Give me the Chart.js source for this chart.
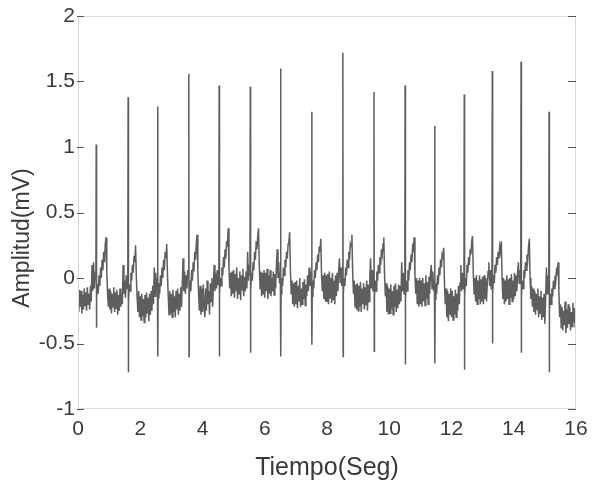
<!DOCTYPE html>
<html>
<head>
<meta charset="utf-8">
<script src="https://cdn.jsdelivr.net/npm/chart.js@4.4.1/dist/chart.umd.min.js"></script>
<style>
  html, body { margin: 0; padding: 0; background: #fff; }
  #wrap { width: 598px; height: 489px; }
</style>
</head>
<body>
<div id="wrap"><canvas id="ecg"></canvas></div>
<script>
    // ECG: linea base + onda T cada 0.025 s, un segundo por tramo
    const dt = 0.025;

    const tramo0  = [-0.12, -0.26, -0.09, -0.22, -0.10, -0.27, -0.13, -0.24, -0.08, -0.21, -0.11, -0.25, -0.07, -0.20, -0.12, -0.24, -0.06, -0.18, 0.10, -0.10, 0.12, -0.08, 0.02, 0.00, -0.15, -0.05, -0.12, 0.02, -0.06, 0.08, 0.00, 0.14, 0.06, 0.20, 0.12, 0.26, 0.31, 0.05, -0.12, -0.22];
    const tramo1  = [-0.08, -0.24, -0.10, -0.27, -0.12, -0.22, -0.07, -0.26, -0.11, -0.23, -0.09, -0.28, -0.13, -0.25, -0.08, -0.22, -0.12, -0.20, 0.10, -0.12, -0.02, -0.15, 0.02, -0.08, 0.00, -0.18, -0.05, -0.10, 0.04, -0.02, 0.10, 0.04, 0.17, 0.12, 0.25, 0.00, -0.15, -0.26, -0.10, -0.30];
    const tramo2  = [-0.14, -0.32, -0.12, -0.29, -0.16, -0.34, -0.13, -0.30, -0.11, -0.27, -0.15, -0.33, -0.12, -0.28, -0.10, -0.25, -0.06, -0.20, 0.08, -0.14, 0.04, -0.10, 0.00, -0.15, -0.04, -0.12, 0.02, -0.06, 0.08, 0.00, 0.14, 0.06, 0.20, 0.15, 0.26, 0.02, -0.14, -0.28, -0.10, -0.27];
    const tramo3  = [-0.12, -0.30, -0.09, -0.26, -0.14, -0.30, -0.10, -0.24, -0.08, -0.28, -0.12, -0.25, -0.07, -0.22, -0.05, 0.15, -0.10, 0.05, -0.12, 0.02, -0.08, 0.06, 0.02, -0.14, -0.02, -0.10, 0.06, -0.02, 0.12, 0.05, 0.20, 0.14, 0.26, 0.33, 0.05, -0.12, -0.25, -0.06, -0.28, -0.08];
    const tramo4  = [-0.26, -0.05, -0.22, -0.30, -0.08, -0.25, -0.02, -0.20, -0.10, -0.28, -0.04, -0.18, 0.00, -0.22, -0.06, 0.10, -0.10, 0.04, -0.08, 0.06, -0.05, 0.02, -0.12, 0.00, -0.06, 0.08, 0.02, 0.16, 0.08, 0.22, 0.15, 0.28, 0.24, 0.38, 0.08, -0.08, 0.04, -0.14, 0.05, -0.12];
    const tramo5  = [0.06, -0.15, 0.03, -0.10, 0.08, -0.16, 0.00, -0.12, 0.05, -0.17, 0.02, -0.09, 0.07, -0.14, 0.01, -0.10, 0.05, -0.08, 0.20, -0.02, 0.10, 0.02, -0.10, 0.04, -0.02, 0.12, 0.06, 0.20, 0.14, 0.28, 0.22, 0.32, 0.38, 0.10, -0.08, 0.05, -0.14, 0.04, -0.12, 0.06];
    const tramo6  = [-0.15, 0.04, -0.10, 0.07, -0.16, 0.02, -0.12, 0.06, -0.14, 0.00, -0.10, 0.05, -0.13, 0.03, -0.08, 0.10, 0.22, 0.00, 0.12, -0.04, 0.05, -0.12, 0.00, -0.06, 0.08, 0.02, 0.14, 0.08, 0.20, 0.15, 0.26, 0.28, 0.35, 0.05, -0.12, -0.02, -0.20, -0.04, -0.22, -0.03];
    const tramo7  = [-0.20, -0.02, -0.23, -0.06, -0.18, 0.00, -0.22, -0.08, -0.20, -0.03, -0.16, -0.01, -0.21, -0.05, -0.14, 0.02, -0.10, 0.08, -0.06, 0.05, -0.02, -0.14, -0.02, -0.08, 0.06, 0.00, 0.12, 0.06, 0.18, 0.12, 0.24, 0.20, 0.30, 0.02, -0.10, 0.02, -0.16, 0.04, -0.18, 0.02];
    const tramo8  = [-0.18, 0.03, -0.20, 0.05, -0.15, 0.00, -0.19, 0.04, -0.17, -0.02, -0.20, 0.02, -0.14, 0.04, -0.10, 0.06, 0.15, -0.04, 0.08, -0.06, 0.03, -0.12, 0.00, -0.06, 0.08, 0.02, 0.14, 0.08, 0.20, 0.14, 0.26, 0.24, 0.33, 0.04, -0.12, -0.02, -0.22, -0.05, -0.24, -0.04];
    const tramo9  = [-0.25, -0.06, -0.22, -0.03, -0.26, -0.08, -0.20, -0.04, -0.24, -0.07, -0.21, -0.02, -0.25, -0.05, -0.18, 0.00, 0.15, -0.08, 0.06, -0.10, 0.00, -0.14, -0.02, -0.10, 0.05, -0.02, 0.10, 0.04, 0.16, 0.10, 0.22, 0.18, 0.26, 0.31, 0.02, -0.14, -0.04, -0.26, -0.06, -0.28];
    const tramo10 = [-0.08, -0.27, -0.05, -0.24, -0.10, -0.28, -0.06, -0.22, -0.04, -0.26, -0.09, -0.23, -0.05, -0.20, -0.06, -0.18, 0.12, -0.10, 0.04, -0.12, 0.00, -0.16, -0.02, -0.10, 0.06, -0.02, 0.12, 0.06, 0.18, 0.12, 0.24, 0.22, 0.31, 0.02, -0.12, 0.00, -0.20, -0.02, -0.22, 0.00];
    const tramo11 = [-0.20, -0.02, -0.22, 0.00, -0.18, -0.04, -0.21, 0.02, -0.16, -0.03, -0.20, 0.01, -0.12, 0.04, 0.10, -0.08, 0.05, -0.10, -0.02, -0.16, -0.04, -0.12, 0.02, -0.05, 0.08, 0.02, 0.14, 0.08, 0.18, 0.16, 0.23, -0.05, -0.20, -0.08, -0.30, -0.10, -0.33, -0.12, -0.28, -0.08];
    const tramo12 = [-0.30, -0.10, -0.32, -0.14, -0.28, -0.09, -0.30, -0.12, -0.25, -0.06, -0.20, -0.04, 0.10, -0.10, 0.04, -0.08, 0.00, -0.14, 0.00, -0.06, 0.10, 0.04, 0.16, 0.10, 0.22, 0.18, 0.28, 0.32, 0.04, -0.12, 0.00, -0.18, 0.02, -0.20, -0.02, -0.16, 0.02, -0.20, -0.01, -0.18];
    const tramo13 = [0.01, -0.20, 0.02, -0.16, 0.00, -0.18, -0.04, 0.05, 0.12, -0.06, 0.06, -0.08, 0.02, -0.12, 0.02, -0.04, 0.10, 0.04, 0.16, 0.10, 0.20, 0.15, 0.24, 0.20, 0.28, 0.00, -0.16, 0.00, -0.20, -0.02, -0.18, 0.02, -0.16, -0.01, -0.20, 0.00, -0.15, 0.03, -0.18, -0.02];
    const tramo14 = [-0.16, 0.04, -0.14, 0.02, -0.10, 0.05, 0.12, -0.04, 0.06, 0.00, -0.14, -0.02, -0.08, 0.06, 0.00, 0.12, 0.06, 0.18, 0.14, 0.24, 0.30, 0.00, -0.16, -0.06, -0.22, -0.08, -0.26, -0.10, -0.28, -0.12, -0.24, -0.08, -0.30, -0.14, -0.27, -0.10, -0.32, -0.15, -0.30, -0.12];
    const tramo15 = [-0.35, -0.15, 0.08, -0.12, 0.02, -0.05, -0.25, -0.12, -0.20, -0.08, -0.14, -0.02, -0.08, 0.02, -0.02, 0.06, 0.04, 0.12, -0.10, -0.30, -0.20, -0.38, -0.22, -0.40, -0.25, -0.36, -0.18, -0.42, -0.24, -0.38, -0.20, -0.35, -0.22, -0.40, -0.26, -0.37, -0.19, -0.34, -0.23, -0.38, -0.22];

    // complejos QRS: instante de la onda R, su pico y el valle S que la sigue
    const tiempoR = [0.585, 1.61, 2.56, 3.56, 4.535, 5.535, 6.51, 7.51, 8.51, 9.51, 10.51, 11.46, 12.41, 13.31, 14.235, 15.135];
    const picoR = [1.02, 1.38, 1.31, 1.56, 1.47, 1.46, 1.60, 1.27, 1.72, 1.42, 1.47, 1.16, 1.40, 1.58, 1.65, 1.27];
    const valleS = [-0.38, -0.72, -0.60, -0.60, -0.60, -0.57, -0.60, -0.51, -0.60, -0.56, -0.66, -0.65, -0.70, -0.50, -0.57, -0.72];

    const ticksX = [0, 2, 4, 6, 8, 10, 12, 14, 16];
    const ticksY = [-1, -0.5, 0, 0.5, 1, 1.5, 2];

    const base = [].concat(tramo0, tramo1, tramo2, tramo3, tramo4, tramo5, tramo6, tramo7,
      tramo8, tramo9, tramo10, tramo11, tramo12, tramo13, tramo14, tramo15);

    const puntos = base.map((v, i) => ({ x: i * dt, y: v }));
    tiempoR.forEach((t, i) => {
      puntos.push({ x: t, y: picoR[i] });
      puntos.push({ x: t + 0.008, y: valleS[i] });
    });
    puntos.sort((a, b) => a.x - b.x);

    const fuente = 'Liberation Sans, Arial, sans-serif';
    const colorTexto = '#3a3a3a';

    // marco gris claro, marcas hacia dentro y titulo del eje y
    const marco = {
      id: 'marco',
      afterDatasetsDraw(chart) {
        const { ctx, chartArea: a, scales: { y } } = chart;
        ctx.save();
        ctx.strokeStyle = '#d9d9d9';
        ctx.lineWidth = 1;
        ctx.strokeRect(a.left + 0.5, a.top + 0.5, a.right - a.left - 1, a.bottom - a.top - 1);
        ctx.strokeStyle = '#555';
        ctx.beginPath();
        ticksY.forEach(v => {
          const py = Math.round(y.getPixelForValue(v)) + 0.5;
          ctx.moveTo(a.left - 1, py);
          ctx.lineTo(a.left + 6, py);
          ctx.moveTo(a.right - 8, py);
          ctx.lineTo(a.right, py);
        });
        ctx.stroke();

        ctx.translate(23, 238);
        ctx.rotate(-Math.PI / 2);
        ctx.fillStyle = colorTexto;
        ctx.font = '23px ' + fuente;
        ctx.textAlign = 'center';
        ctx.textBaseline = 'middle';
        ctx.fillText('Amplitud(mV)', 0, 0);
        ctx.restore();
      }
    };

    new Chart(document.getElementById('ecg').getContext('2d'), {
      type: 'line',
      data: {
        datasets: [{
          data: puntos,
          borderColor: '#5e5e5e',
          borderWidth: 1.5,
          pointRadius: 0,
          tension: 0,
          fill: false
        }]
      },
      options: {
        responsive: true,
        maintainAspectRatio: false,
        animation: false,
        layout: { padding: { top: 16, right: 22, left: 0, bottom: 0 } },
        plugins: { legend: { display: false }, tooltip: { enabled: false } },
        scales: {
          x: {
            type: 'linear',
            min: 0,
            max: 16,
            afterBuildTicks: s => { s.ticks = ticksX.map(v => ({ value: v })); },
            afterFit: s => { s.height = 80; },
            grid: { display: false, drawTicks: false },
            border: { display: false },
            ticks: { color: colorTexto, font: { family: fuente, size: 21 }, padding: 8, maxRotation: 0, callback: v => String(v) },
            title: {
              display: true,
              text: 'Tiempo(Seg)',
              color: colorTexto,
              font: { family: fuente, size: 25 },
              padding: { top: 0, bottom: 6 }
            }
          },
          y: {
            min: -1,
            max: 2,
            afterBuildTicks: s => { s.ticks = ticksY.map(v => ({ value: v })); },
            afterFit: s => { s.width = 78; },
            grid: { display: false, drawTicks: false },
            border: { display: false },
            ticks: { color: colorTexto, font: { family: fuente, size: 21 }, padding: 3, callback: v => String(v) },
            title: { display: false }
          }
        }
      },
      plugins: [marco]
    });
</script>
</body>
</html>
